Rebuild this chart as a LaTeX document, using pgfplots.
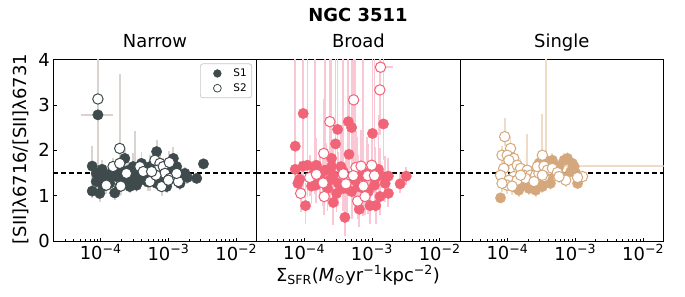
\documentclass[border=0pt]{standalone}
\usepackage{fontspec}
\setmainfont{DejaVu Sans}
\usepackage{pgfplots}
\pgfplotsset{compat=1.18}
\usepackage{pgfplotstable}

\definecolor{narrowc}{RGB}{62,74,76}
\definecolor{broadc}{RGB}{241,99,118}
\definecolor{singlec}{RGB}{212,168,124}
\definecolor{narrowe}{RGB}{217,212,208}
\definecolor{broade}{RGB}{250,200,212}
\definecolor{singlee}{RGB}{238,220,198}

% ---------- Narrow ----------
\pgfplotstableread{
x y ep em
9.1e-5 2.78 1.40 1.85
7.5e-5 1.65 0.45 0.50
7.5e-5 1.10 0.20 0.15
9.7e-5 1.05 0.20 0.20
1.61e-4 1.06 0.15 0.15
8.6e-5 1.49 0.20 0.25
1.02e-4 1.38 0.20 0.35
1.21e-4 1.34 0.25 0.20
8.6e-5 1.31 0.15 0.20
1.44e-4 1.49 0.25 0.20
1.71e-4 1.42 0.20 0.15
2.27e-4 1.82 0.20 0.20
2.02e-4 1.56 0.30 0.20
2.40e-4 1.42 0.20 0.20
2.84e-4 1.34 0.20 0.20
2.69e-4 1.20 0.15 0.15
3.38e-4 1.23 0.20 0.15
3.57e-4 1.49 0.25 0.20
4.00e-4 1.71 0.25 0.20
4.75e-4 1.49 0.20 0.15
5.32e-4 1.64 0.25 0.20
6.68e-4 1.97 0.25 0.25
5.96e-4 1.45 0.20 0.20
7.48e-4 1.34 0.20 0.15
8.87e-4 1.56 0.20 0.20
1.18e-3 1.82 0.25 0.20
1.32e-3 1.64 0.20 0.20
1.57e-3 1.45 0.15 0.15
1.75e-3 1.49 0.15 0.15
2.61e-3 1.38 0.10 0.10
3.28e-3 1.70 0.10 0.10
1.11e-3 1.38 0.20 0.15
9.40e-4 1.20 0.15 0.15
3.19e-4 1.53 0.90 0.25
1.91e-4 1.20 0.20 0.20
1.36e-4 1.27 0.20 0.15
3.01e-4 1.64 0.30 0.20
4.49e-4 1.34 0.20 0.15
6.68e-4 1.27 0.20 0.15
1.48e-3 1.27 0.15 0.15
2.14e-4 1.34 0.20 0.20
1.08e-4 1.20 0.20 0.20
1.30e-4 1.45 0.20 0.20
2.50e-4 1.55 0.20 0.20
3.00e-4 1.38 0.20 0.20
4.20e-4 1.60 0.20 0.20
5.00e-4 1.30 0.20 0.20
7.00e-4 1.50 0.20 0.20
8.00e-4 1.40 0.20 0.20
1.00e-3 1.55 0.20 0.20
1.25e-3 1.50 0.20 0.20
1.90e-3 1.40 0.15 0.15
1.05e-4 1.58 0.20 0.20
6.00e-4 1.68 0.20 0.20
3.50e-4 1.30 0.20 0.20
}\narrowA
\pgfplotstableread{
x y ep em
9.1e-5 3.13 0.20 0.20
1.91e-4 2.04 1.65 0.30
1.52e-4 1.64 0.20 0.20
1.91e-4 1.71 0.25 0.20
2.40e-4 1.49 0.20 0.20
1.21e-4 1.23 0.20 0.20
1.98e-4 1.21 0.20 0.20
3.78e-4 1.64 0.20 0.20
4.24e-4 1.53 0.20 0.20
5.32e-4 1.31 0.20 0.20
6.31e-4 1.78 0.30 0.20
7.48e-4 1.71 0.25 0.20
6.84e-4 1.56 0.20 0.20
8.38e-4 1.64 0.20 0.20
1.03e-3 1.73 0.25 0.20
8.87e-4 1.49 0.20 0.20
1.05e-3 1.38 0.20 0.20
7.92e-4 1.20 0.20 0.20
1.40e-3 1.31 0.15 0.15
6.53e-4 1.45 0.20 0.20
5.64e-4 1.53 0.20 0.20
1.32e-3 1.49 0.15 0.15
9.95e-4 1.34 0.20 0.20
}\narrowB

% ---------- Broad ----------
\pgfplotstableread{
x y ep em
9.7e-5 2.81 1.40 1.00
7.4e-5 2.09 0.60 0.50
7.4e-5 1.58 2.50 0.40
9.7e-5 1.65 2.40 0.60
1.12e-4 1.67 2.40 0.70
8.6e-5 1.36 0.40 0.40
8.1e-5 1.27 0.30 0.30
1.05e-4 0.78 0.50 0.40
1.29e-4 1.21 0.50 0.40
1.49e-4 1.23 0.60 0.40
1.44e-4 1.53 2.50 0.50
2.02e-4 1.56 2.50 0.60
1.91e-4 1.31 0.60 0.50
2.22e-4 1.16 0.50 0.50
2.54e-4 1.82 2.20 0.70
2.91e-4 2.14 1.90 0.80
3.12e-4 2.46 1.60 0.90
2.69e-4 0.85 0.60 0.50
2.69e-4 1.45 0.60 0.50
2.40e-4 1.34 0.50 0.40
3.19e-4 1.27 0.70 0.50
3.78e-4 1.53 2.50 0.70
4.00e-4 0.52 0.60 0.40
4.49e-4 2.63 1.40 1.00
5.03e-4 2.50 1.50 0.90
4.59e-4 1.91 1.20 0.80
4.24e-4 1.16 0.80 0.60
5.03e-4 1.09 0.80 0.60
5.64e-4 1.34 2.70 0.70
5.96e-4 1.49 0.80 0.60
6.53e-4 0.70 0.60 0.40
7.48e-4 1.42 2.60 0.60
7.48e-4 1.16 0.80 0.60
8.87e-4 1.09 0.70 0.50
1.02e-3 2.37 1.70 0.90
9.40e-4 0.78 0.60 0.40
1.14e-3 0.78 0.60 0.40
1.09e-3 1.23 2.80 0.60
1.25e-3 1.58 1.20 0.70
1.32e-3 0.98 0.60 0.40
1.48e-3 2.58 1.50 0.80
1.57e-3 1.27 0.60 0.40
1.75e-3 1.43 0.40 0.30
1.75e-3 1.05 0.40 0.30
2.61e-3 1.26 0.25 0.20
3.21e-3 1.43 0.20 0.20
2.14e-4 1.56 0.60 0.50
1.71e-4 1.42 0.50 0.50
3.49e-4 1.64 0.80 0.60
3.01e-4 1.05 0.50 0.40
6.31e-4 1.20 0.70 0.50
8.38e-4 1.49 0.80 0.60
1.11e-3 1.38 0.70 0.50
1.32e-3 1.45 0.60 0.50
2.54e-4 1.64 0.70 0.50
3.78e-4 1.16 0.60 0.50
1.52e-4 1.67 0.60 0.50
}\broadA
\pgfplotstableread{
x y ep em
1.34e-3 3.83 0.40 0.80
1.31e-3 3.33 0.80 1.00
5.38e-4 3.11 1.00 1.20
2.40e-4 2.63 1.50 1.00
1.95e-4 1.93 1.20 0.70
8.9e-5 1.05 0.50 0.40
1.21e-4 1.40 0.50 0.40
1.52e-4 1.47 0.60 0.50
1.91e-4 1.28 0.60 0.50
1.98e-4 0.98 0.60 0.40
3.78e-4 1.48 0.80 0.60
4.14e-4 1.26 0.70 0.50
5.82e-4 1.62 0.80 0.60
5.32e-4 1.44 0.80 0.60
6.17e-4 0.88 0.60 0.40
6.92e-4 1.65 0.80 0.60
7.48e-4 1.21 0.70 0.50
7.92e-4 0.98 0.60 0.40
8.67e-4 1.44 0.70 0.50
9.95e-4 1.67 0.80 0.60
1.09e-3 1.44 0.70 0.50
}\broadB

% ---------- Single ----------
\pgfplotstableread{
x y ep em
7.9e-5 0.95 0.10 0.10
1.24e-4 1.20 0.20 0.15
1.47e-4 1.12 0.15 0.15
1.65e-4 1.27 0.15 0.15
1.95e-4 1.34 0.20 0.15
2.32e-4 1.20 0.15 0.15
2.75e-4 1.23 0.15 0.15
3.27e-4 1.20 0.15 0.15
3.66e-4 1.34 0.20 0.15
4.09e-4 1.42 0.15 0.15
5.14e-4 1.49 0.15 0.15
5.75e-4 1.64 0.15 0.15
6.84e-4 1.78 0.15 0.15
7.66e-4 1.82 0.15 0.15
9.08e-4 1.71 0.10 0.10
8.57e-4 1.53 0.10 0.10
1.02e-3 1.49 0.10 0.10
1.08e-3 1.27 0.10 0.10
9.62e-4 1.64 0.10 0.10
4.59e-4 1.78 0.15 0.15
4.86e-4 1.67 0.15 0.15
3.66e-4 1.78 0.15 0.15
2.91e-4 1.71 0.15 0.15
6.46e-4 1.42 0.15 0.15
4.30e-4 1.27 0.15 0.15
2.60e-4 1.12 0.15 0.15
2.07e-4 1.16 0.15 0.15
1.56e-4 1.23 0.15 0.15
}\singleA
\pgfplotstableread{
x y ep em
9.1e-5 2.30 0.40 0.20
1.11e-4 2.04 0.25 0.20
8.3e-5 1.89 0.20 0.20
9.9e-5 1.89 0.20 0.20
1.24e-4 1.82 0.20 0.20
1.05e-4 1.78 0.20 0.20
1.39e-4 1.67 0.20 0.20
8.8e-5 1.60 0.20 0.20
1.56e-4 1.60 0.20 0.20
1.95e-4 1.56 0.80 0.20
1.75e-4 1.45 0.20 0.20
2.19e-4 1.45 0.20 0.20
7.9e-5 1.45 0.20 0.20
1.24e-4 1.42 0.20 0.20
1.05e-4 1.34 0.20 0.20
1.39e-4 1.34 0.20 0.20
1.85e-4 1.38 0.20 0.20
2.60e-4 1.45 0.20 0.20
2.91e-4 1.49 0.20 0.20
2.75e-4 1.64 0.20 0.20
3.27e-4 1.89 0.90 0.20
3.45e-4 1.65 0.20 0.20
3.87e-4 1.56 0.20 0.20
4.59e-4 1.60 0.20 0.20
5.44e-4 1.51 0.15 0.15
7.23e-4 1.34 0.15 0.15
5.75e-4 1.42 0.15 0.15
3.45e-4 1.42 0.20 0.20
2.46e-4 1.31 0.20 0.20
9.9e-5 1.23 0.20 0.20
1.17e-4 1.21 0.20 0.20
1.28e-3 1.42 0.10 0.10
1.08e-3 1.40 0.10 0.10
3.27e-4 1.45 0.20 0.20
8.3e-5 1.27 0.20 0.20
1.56e-4 1.45 0.20 0.20
}\singleB

\begin{document}
\begin{tikzpicture}
\useasboundingbox (0,0) rectangle (685bp,297bp);
\node[font=\bfseries\fontsize{18}{20}\selectfont, anchor=base] at (358bp,275bp) {NGC 3511};

% Narrow
\begin{axis}[scale only axis, width=203.4bp, height=181.5bp,
    anchor=south west, at={(53.3bp,56bp)},
    xmode=log, xmin=2e-5, xmax=2e-2, ymin=0, ymax=4,
    xtick={1e-4,1e-3,1e-2},
    xticklabels={10\textsuperscript{−4},10\textsuperscript{−3},10\textsuperscript{−2}},
    minor xtick={3e-5,4e-5,5e-5,6e-5,7e-5,8e-5,9e-5,2e-4,3e-4,4e-4,5e-4,6e-4,7e-4,8e-4,9e-4,2e-3,3e-3,4e-3,5e-3,6e-3,7e-3,8e-3,9e-3},
    ytick={0,1,2,3,4}, yticklabels={0,1,2,3,4},
    tick align=inside, xtick pos=bottom, ytick pos=left,
    major tick length=3.5bp, minor tick length=2bp,
    tick style={black, line width=0.7bp},
    axis line style={line width=0.8bp},
    tick label style={font=\fontsize{18}{20}\selectfont},
    title={Narrow},
    title style={at={(0.5,1)}, anchor=base, yshift=6.5bp, font=\fontsize{18}{20}\selectfont},
    legend style={at={(0.977,0.978)}, anchor=north east, draw=black!22, line width=0.7bp, rounded corners=2.5bp,
      font=\fontsize{10.5}{12}\selectfont, inner xsep=3bp, inner ysep=3bp, row sep=1.5bp},
    legend cell align=left,
    legend image code/.code={\path (0bp,-4bp) rectangle (28bp,4bp); \draw[#1] plot coordinates {(14bp,0bp)};}]
\addplot[forget plot, draw=none, mark=none, error bars/y dir=both, error bars/y explicit, error bars/error mark=none, error bars/error bar style={draw=narrowe, line width=1.8bp}] table[x=x,y=y,y error plus=ep,y error minus=em]{\narrowA};
\addplot[forget plot, draw=none, mark=none, error bars/y dir=both, error bars/y explicit, error bars/error mark=none, error bars/error bar style={draw=narrowe, line width=1.8bp}] table[x=x,y=y,y error plus=ep,y error minus=em]{\narrowB};
\addplot[forget plot, narrowe, line width=1.8bp] coordinates {(5.2e-5,2.78)(1.52e-4,2.78)};
\addplot[forget plot, black, line width=1.3bp, dash pattern=on 5bp off 3bp] coordinates {(1e-6,1.5)(1,1.5)};
\addplot[forget plot, only marks, mark=*, mark size=5.2bp, mark options={fill=narrowc, draw=narrowc, line width=0.4bp}] table[x=x,y=y]{\narrowA};
\addplot[forget plot, only marks, mark=*, mark size=5.2bp, mark options={fill=white, draw=narrowc, line width=1bp}] table[x=x,y=y]{\narrowB};
\addlegendimage{draw=none, mark=*, mark size=3.9bp, mark options={fill=narrowc, draw=narrowc, line width=0.4bp}}
\addlegendentry{S1}
\addlegendimage{draw=none, mark=*, mark size=3.9bp, mark options={fill=white, draw=narrowc, line width=0.8bp}}
\addlegendentry{S2}
\end{axis}

% Broad
\begin{axis}[scale only axis, width=203.4bp, height=181.5bp,
    anchor=south west, at={(256.7bp,56bp)},
    xmode=log, xmin=2e-5, xmax=2e-2, ymin=0, ymax=4,
    xtick={1e-4,1e-3,1e-2},
    xticklabels={10\textsuperscript{−4},10\textsuperscript{−3},10\textsuperscript{−2}},
    minor xtick={3e-5,4e-5,5e-5,6e-5,7e-5,8e-5,9e-5,2e-4,3e-4,4e-4,5e-4,6e-4,7e-4,8e-4,9e-4,2e-3,3e-3,4e-3,5e-3,6e-3,7e-3,8e-3,9e-3},
    ytick={0,1,2,3,4}, yticklabels={},
    tick align=inside, xtick pos=bottom, ytick pos=left,
    major tick length=3.5bp, minor tick length=2bp,
    tick style={black, line width=0.7bp},
    axis line style={line width=0.8bp},
    tick label style={font=\fontsize{18}{20}\selectfont},
    title={Broad},
    title style={at={(0.5,1)}, anchor=base, yshift=6.5bp, font=\fontsize{18}{20}\selectfont}]
\addplot[forget plot, draw=none, mark=none, error bars/y dir=both, error bars/y explicit, error bars/error mark=none, error bars/error bar style={draw=broade, line width=1.8bp}] table[x=x,y=y,y error plus=ep,y error minus=em]{\broadA};
\addplot[forget plot, draw=none, mark=none, error bars/y dir=both, error bars/y explicit, error bars/error mark=none, error bars/error bar style={draw=broade, line width=1.8bp}] table[x=x,y=y,y error plus=ep,y error minus=em]{\broadB};
\addplot[forget plot, broade, line width=1.8bp] coordinates {(1.15e-3,3.83)(2.08e-3,3.83)};
\addplot[forget plot, black, line width=1.3bp, dash pattern=on 5bp off 3bp] coordinates {(1e-6,1.5)(1,1.5)};
\addplot[only marks, mark=*, mark size=5.2bp, mark options={fill=broadc, draw=broadc, line width=0.4bp}] table[x=x,y=y]{\broadA};
\addplot[only marks, mark=*, mark size=5.2bp, mark options={fill=white, draw=broadc, line width=1bp}] table[x=x,y=y]{\broadB};
\end{axis}

% Single
\begin{axis}[scale only axis, width=203.4bp, height=181.5bp,
    anchor=south west, at={(460.1bp,56bp)},
    xmode=log, xmin=2e-5, xmax=2e-2, ymin=0, ymax=4,
    xtick={1e-4,1e-3,1e-2},
    xticklabels={10\textsuperscript{−4},10\textsuperscript{−3},10\textsuperscript{−2}},
    minor xtick={3e-5,4e-5,5e-5,6e-5,7e-5,8e-5,9e-5,2e-4,3e-4,4e-4,5e-4,6e-4,7e-4,8e-4,9e-4,2e-3,3e-3,4e-3,5e-3,6e-3,7e-3,8e-3,9e-3},
    ytick={0,1,2,3,4}, yticklabels={},
    tick align=inside, xtick pos=bottom, ytick pos=left,
    major tick length=3.5bp, minor tick length=2bp,
    tick style={black, line width=0.7bp},
    axis line style={line width=0.8bp},
    tick label style={font=\fontsize{18}{20}\selectfont},
    title={Single},
    title style={at={(0.5,1)}, anchor=base, yshift=6.5bp, font=\fontsize{18}{20}\selectfont}]
\addplot[forget plot, draw=none, mark=none, error bars/y dir=both, error bars/y explicit, error bars/error mark=none, error bars/error bar style={draw=singlee, line width=1.8bp}] table[x=x,y=y,y error plus=ep,y error minus=em]{\singleA};
\addplot[forget plot, draw=none, mark=none, error bars/y dir=both, error bars/y explicit, error bars/error mark=none, error bars/error bar style={draw=singlee, line width=1.8bp}] table[x=x,y=y,y error plus=ep,y error minus=em]{\singleB};
\addplot[forget plot, singlee, line width=1.8bp] coordinates {(3.74e-4,4.3)(3.74e-4,1.65)(3e-2,1.65)};
\addplot[forget plot, black, line width=1.3bp, dash pattern=on 5bp off 3bp] coordinates {(1e-6,1.5)(1,1.5)};
\addplot[only marks, mark=*, mark size=5.2bp, mark options={fill=singlec, draw=singlec, line width=0.4bp}] table[x=x,y=y]{\singleA};
\addplot[only marks, mark=*, mark size=5.2bp, mark options={fill=white, draw=singlec, line width=1bp}] table[x=x,y=y]{\singleB};
\end{axis}

\node[font=\fontsize{18}{20}\selectfont, rotate=90, anchor=center] at (21bp,148bp) {[SII]λ6716/[SII]λ6731};
\node[font=\fontsize{18}{20}\selectfont, anchor=base] at (358bp,16bp) {Σ\textsubscript{SFR}(\textit{M}\textsubscript{⊙}yr\textsuperscript{−1}kpc\textsuperscript{−2})};
\end{tikzpicture}
\end{document}
